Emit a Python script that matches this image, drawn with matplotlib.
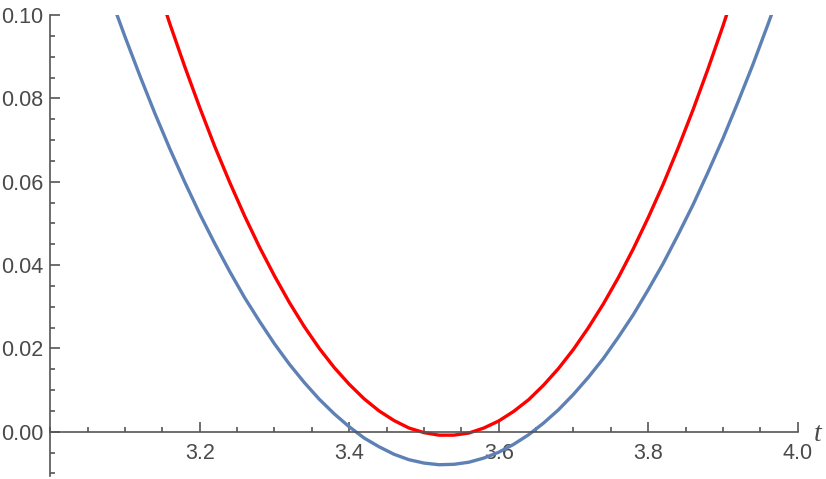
import matplotlib
matplotlib.use("Agg")
import matplotlib.pyplot as plt
from matplotlib.ticker import MultipleLocator, FormatStrFormatter

# values
t_blue = [3.08, 3.10, 3.12, 3.14, 3.16, 3.18, 3.20, 3.22, 3.24, 3.26, 3.28, 3.30,
          3.32, 3.34, 3.36, 3.38, 3.40, 3.42, 3.44, 3.46, 3.48, 3.50, 3.52, 3.54,
          3.56, 3.58, 3.60, 3.62, 3.64, 3.66, 3.68, 3.70, 3.72, 3.74, 3.76, 3.78,
          3.80, 3.82, 3.84, 3.86, 3.88, 3.90, 3.92, 3.94, 3.96, 3.98]
y_blue = [0.1046, 0.0948, 0.0854, 0.0764, 0.0679, 0.0599, 0.0523, 0.0452, 0.0385,
          0.0322, 0.0265, 0.0211, 0.0162, 0.0118, 0.0078, 0.0043, 0.0012, -0.0015,
          -0.0036, -0.0054, -0.0067, -0.0075, -0.0079, -0.0078, -0.0073, -0.0063,
          -0.0049, -0.0030, -0.0007, 0.0021, 0.0053, 0.0090, 0.0131, 0.0176, 0.0227,
          0.0281, 0.0341, 0.0404, 0.0473, 0.0545, 0.0623, 0.0704, 0.0791, 0.0881,
          0.0977, 0.1076]

t_red = [3.14, 3.16, 3.18, 3.20, 3.22, 3.24, 3.26, 3.28, 3.30, 3.32, 3.34, 3.36,
         3.38, 3.40, 3.42, 3.44, 3.46, 3.48, 3.50, 3.52, 3.54, 3.56, 3.58, 3.60,
         3.62, 3.64, 3.66, 3.68, 3.70, 3.72, 3.74, 3.76, 3.78, 3.80, 3.82, 3.84,
         3.86, 3.88, 3.90, 3.92]
y_red = [0.1089, 0.0979, 0.0876, 0.0778, 0.0685, 0.0599, 0.0518, 0.0443, 0.0374,
         0.0310, 0.0252, 0.0200, 0.0154, 0.0114, 0.0079, 0.0050, 0.0027, 0.0009,
         -0.0002, -0.0008, -0.0008, -0.0003, 0.0009, 0.0026, 0.0049, 0.0077, 0.0112,
         0.0152, 0.0198, 0.0250, 0.0307, 0.0370, 0.0439, 0.0514, 0.0594, 0.0681,
         0.0773, 0.0871, 0.0974, 0.1083]

x_major = [3.2, 3.4, 3.6, 3.8, 4.0]
y_major = [0.00, 0.02, 0.04, 0.06, 0.08, 0.10]

axis_col = "#555555"
text_col = "#4a4a4a"

fig = plt.figure(figsize=(8.26, 4.79), dpi=100)
ax = fig.add_axes([0.0608, 0.0063, 0.905, 0.9624])

ax.plot(t_blue, y_blue, color="#5e81b5", lw=2.4, solid_capstyle="butt")
ax.plot(t_red, y_red, color="#ff0000", lw=2.4, solid_capstyle="butt")

ax.set_xlim(3.0, 4.0)
ax.set_ylim(-0.0106, 0.10)

ax.spines["top"].set_visible(False)
ax.spines["right"].set_visible(False)
ax.spines["bottom"].set_position(("data", 0))
for s in ("left", "bottom"):
    ax.spines[s].set_color(axis_col)
    ax.spines[s].set_linewidth(1.2)

ax.set_xticks(x_major)
ax.set_yticks(y_major)
ax.xaxis.set_minor_locator(MultipleLocator(0.05))
ax.yaxis.set_minor_locator(MultipleLocator(0.005))
ax.xaxis.set_major_formatter(FormatStrFormatter("%.1f"))
ax.yaxis.set_major_formatter(FormatStrFormatter("%.2f"))

ax.tick_params(which="both", direction="in", color=axis_col, width=1.2)
ax.tick_params(which="major", length=7)
ax.tick_params(which="minor", length=3.5)
ax.tick_params(axis="x", which="major", pad=8, labelsize=15.5, labelcolor=text_col)
ax.tick_params(axis="y", which="major", pad=5, labelsize=15.5, labelcolor=text_col)
for lab in ax.get_xticklabels() + ax.get_yticklabels():
    lab.set_family("Liberation Sans")

ax.annotate("t", xy=(4.0, 0), xycoords="data", xytext=(14, -2),
            textcoords="offset points", ha="center", va="center",
            fontsize=20, style="italic", family="Liberation Serif", color=text_col,
            annotation_clip=False)

fig.savefig("out.png", dpi=100)
